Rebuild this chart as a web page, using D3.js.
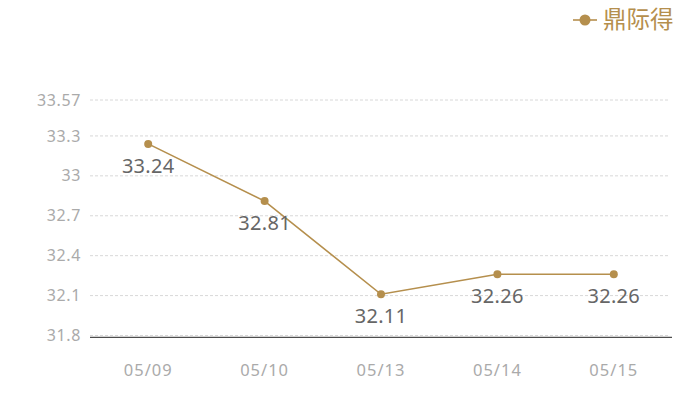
<!DOCTYPE html>
<html><head><meta charset="utf-8">
<script src="https://cdn.jsdelivr.net/npm/d3@7"></script>
<style>body{margin:0;background:#fff}svg{display:block}</style>
</head><body>
<svg id="c" width="700" height="400"></svg>
<script>
const categories = ["05/09","05/10","05/13","05/14","05/15"];
const values = [33.24, 32.81, 32.11, 32.26, 32.26];
const yTicks = [31.8, 32.1, 32.4, 32.7, 33, 33.3, 33.57];
const seriesName = "鼎际得";

(function(){
const color = "#b58f4d";
const font = "'Noto Sans','Open Sans',sans-serif";
const svg = d3.select("#c");
const mLeft = 90, mRight = 672, mTop = 100, mBottom = 335.5;

const x = d3.scaleBand().domain(categories).range([mLeft, mRight]);
const y = d3.scaleLinear().domain([31.8, 33.57]).range([mBottom, mTop]);

// gridlines
svg.append("g").selectAll("line").data(yTicks).join("line")
  .attr("x1", mLeft).attr("x2", mRight - 2)
  .attr("y1", d => y(d)).attr("y2", d => y(d))
  .attr("stroke", "#d8d8d8").attr("stroke-dasharray", "3,2").attr("stroke-width", 1);

// y tick labels
svg.append("g").selectAll("text").data(yTicks).join("text")
  .attr("x", 81).attr("y", d => y(d)).attr("dy", "0.35em")
  .attr("text-anchor", "end").attr("fill", "#aaaaaa")
  .style("font-family", font).style("font-size", "16px").style("letter-spacing", "0.6px")
  .text(d => d);

// x axis
const xAxis = svg.append("g").attr("transform", `translate(0,${mBottom + 1.8})`)
  .call(d3.axisBottom(x).tickSize(0).tickPadding(27));
xAxis.select(".domain").attr("stroke", "#222").attr("d", `M${mLeft},0H${mRight}`);
xAxis.selectAll("text").attr("fill", "#aaaaaa").style("font-family", font)
  .style("font-size", "16.5px").style("letter-spacing", "1px");

const cx = d => x(d) + x.bandwidth() / 2;
const pts = categories.map((c, i) => [cx(c), y(values[i])]);

svg.append("path").datum(pts)
  .attr("d", d3.line())
  .attr("fill", "none").attr("stroke", color).attr("stroke-width", 1.6);

svg.append("g").selectAll("circle").data(pts).join("circle")
  .attr("cx", d => d[0]).attr("cy", d => d[1]).attr("r", 4).attr("fill", color);

svg.append("g").selectAll("text").data(categories).join("text")
  .attr("x", c => cx(c)).attr("y", (c, i) => y(values[i]) + 29)
  .attr("text-anchor", "middle").attr("fill", "#666666")
  .style("font-family", font).style("font-size", "20px").style("letter-spacing", "0.3px")
  .text((c, i) => values[i].toFixed(2));

// legend
const lg = svg.append("g");
lg.append("line").attr("x1", 573).attr("x2", 597).attr("y1", 20).attr("y2", 20)
  .attr("stroke", color).attr("stroke-width", 1.6);
lg.append("circle").attr("cx", 585).attr("cy", 20).attr("r", 5.5).attr("fill", color);
lg.append("text").attr("x", 603).attr("y", 20).attr("dy", "0.36em")
  .attr("fill", color).style("font-family", "'Noto Sans CJK SC',sans-serif").style("font-size", "23.5px")
  .text(seriesName);
})();
</script>
</body></html>
